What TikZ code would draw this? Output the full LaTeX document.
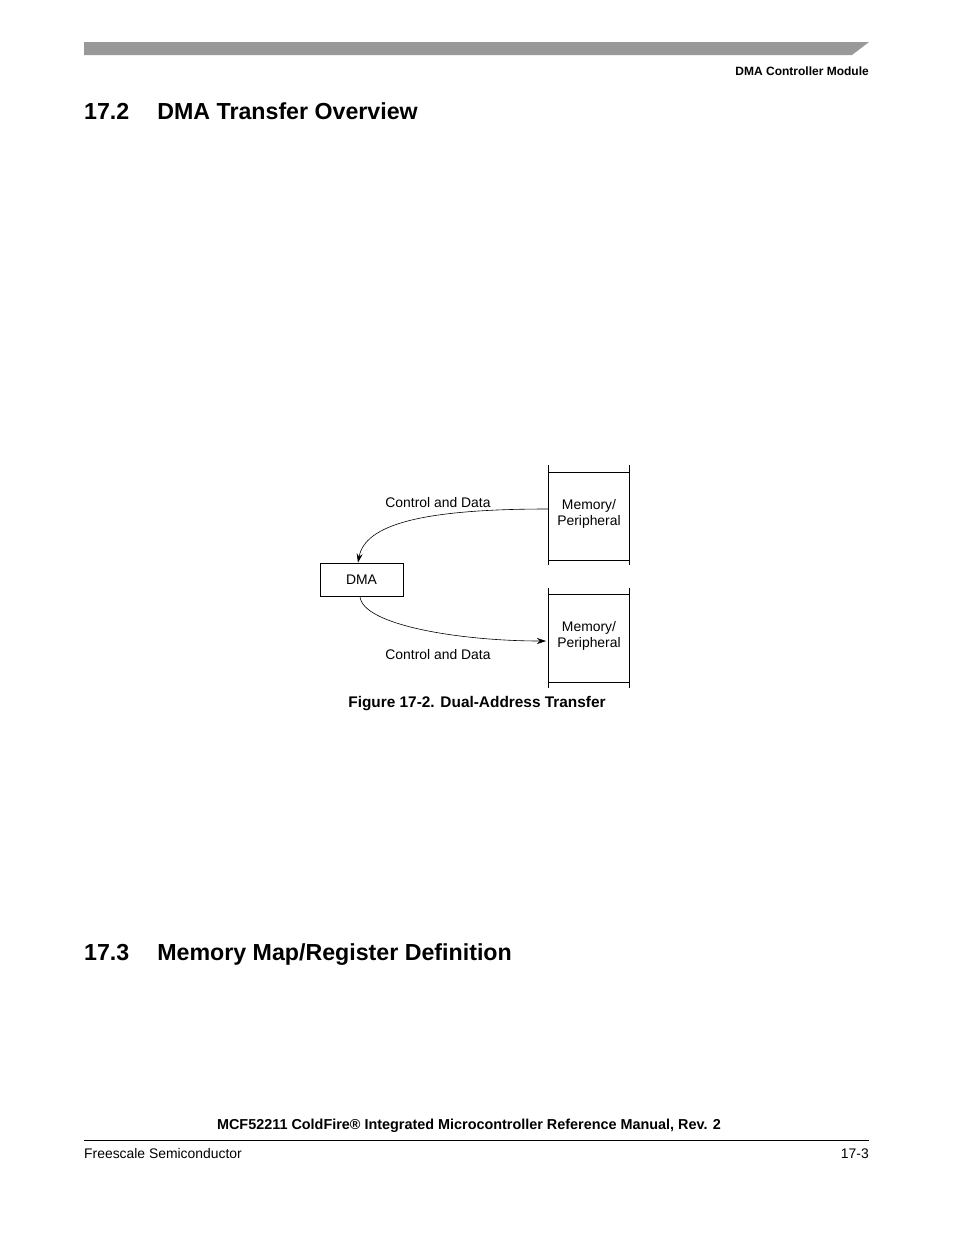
\documentclass[tikz,border=0pt]{standalone}
\usepackage{fontspec}
\setmainfont{Liberation Sans}
\usetikzlibrary{arrows.meta}
\begin{document}
\begin{tikzpicture}[x=1pt,y=-1pt,
  lbl/.style={font=\fontsize{13.9}{15.5}\selectfont, inner sep=0},
  ln/.style={line width=0.8pt},
  arr/.style={line width=0.6pt,-{Stealth[length=9pt,width=6pt]}}]
\useasboundingbox (0,0) rectangle (954,1235);
% header bar
\fill[gray!80] (84,42) -- (869,42) -- (852,55) -- (84,55) -- cycle;
\node[lbl,font=\fontsize{12}{14}\selectfont\bfseries,anchor=east] (hdr) at (869,71) {DMA Controller Module};
\node[anchor=west,inner sep=0,font=\fontsize{23.2}{26}\selectfont\bfseries] (h1) at (84,111) {17.2\hspace{28pt}DMA Transfer Overview};
\node[anchor=west,inner sep=0,font=\fontsize{23.2}{26}\selectfont\bfseries] (h2) at (84,955) {17.3\hspace{28pt}Memory Map/Register Definition};
% diagram
\node[draw,ln,minimum width=83pt,minimum height=33pt,inner sep=0,lbl] (dma) at (361.5,579.5) {DMA};
\draw[ln] (548,465) -- (548,565) (629,465) -- (629,565) (548,472) -- (629,472) (548,560) -- (629,560);
\draw[ln] (548,588) -- (548,688) (629,588) -- (629,688) (548,594) -- (629,594) (548,682) -- (629,682);
\node[lbl,align=center] (m1) at (589,514) {Memory/\\Peripheral};
\node[lbl,align=center] (m2) at (589,636) {Memory/\\Peripheral};
\coordinate (s1) at (548,509);
\coordinate (s2) at (546,641);
\draw[arr] (s1) .. controls (420,509) and (365,525) .. (dma.north -| 358,0);
\draw[arr] (dma.south -| 360,0) .. controls (362,625) and (460,641) .. (s2);
\node[lbl] (c1) at (438,503) {Control and Data};
\node[lbl] (c2) at (438,655) {Control and Data};
\node[lbl,font=\fontsize{15.4}{17}\selectfont\bfseries] (cap) at (477,704) {Figure 17-2. Dual-Address Transfer};
% footer
\node[lbl,font=\fontsize{14.4}{16}\selectfont\bfseries] (ft) at (469,1126) {MCF52211 ColdFire® Integrated Microcontroller Reference Manual, Rev. 2};
\draw[line width=0.6pt] (84,1140) -- (869,1140);
\node[lbl,anchor=west] (fl) at (84,1154) {Freescale Semiconductor};
\node[lbl,anchor=east] (fr) at (869,1154) {17-3};
\end{tikzpicture}
\end{document}
